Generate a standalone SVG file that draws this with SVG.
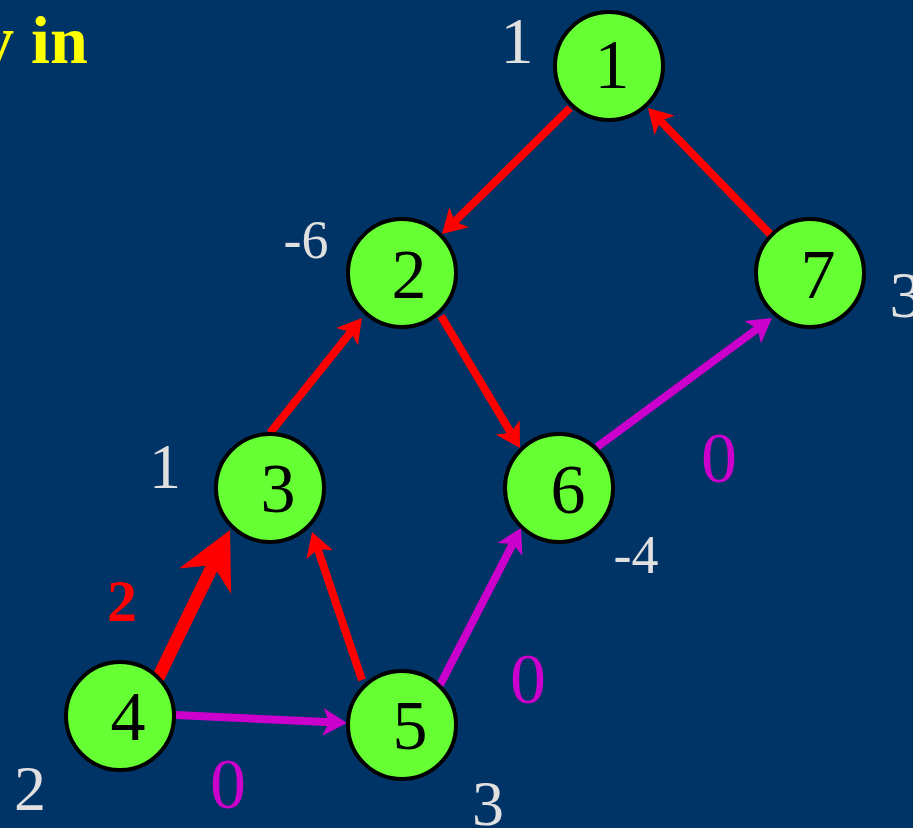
<svg xmlns="http://www.w3.org/2000/svg" width="913" height="828" viewBox="0 0 913 828">
<defs>
<style>
.node circle{fill:#66FF33;stroke:#000;stroke-width:4}
.node text{font-family:"Liberation Serif","Times New Roman",serif;font-size:70px;fill:#000;text-anchor:middle}
.lbl{font-family:"Liberation Serif","Times New Roman",serif;fill:#E0E0E0;text-anchor:middle}
.zero{font-family:"Liberation Serif","Times New Roman",serif;font-size:72px;fill:#CC00CC;text-anchor:middle}
.red{stroke:#FF0000;stroke-width:8;fill:none}
.mag{stroke:#CC00CC;stroke-width:8;fill:none}
</style>
<marker id="ahR" markerUnits="userSpaceOnUse" viewBox="-2 -16 30 32" refX="9" refY="0" markerWidth="30" markerHeight="32" orient="auto" overflow="visible">
<path d="M24,0 L0,-14 L6,0 L0,14 z" fill="#FF0000"/>
</marker>
<marker id="ahM" markerUnits="userSpaceOnUse" viewBox="-2 -16 30 32" refX="9" refY="0" markerWidth="30" markerHeight="32" orient="auto" overflow="visible">
<path d="M24,0 L0,-14 L6,0 L0,14 z" fill="#CC00CC"/>
</marker>
<marker id="ahBig" markerUnits="userSpaceOnUse" viewBox="-2 -31 62 62" refX="27" refY="0" markerWidth="62" markerHeight="62" orient="auto" overflow="visible">
<path d="M57,0 L0,-29 L18,0 L0,29 z" fill="#FF0000"/>
</marker>
</defs>
<rect width="913" height="828" fill="#003366"/>
<text x="-20" y="63" font-family="'Liberation Serif','Times New Roman',serif" font-size="68" font-weight="bold" fill="#FFFF00">y in</text>
<g id="connectors">
<line class="red" x1="570" y1="108" x2="452.7" y2="223.5" marker-end="url(#ahR)"/>
<line class="red" x1="772" y1="236" x2="658.4" y2="118.8" marker-end="url(#ahR)"/>
<line class="red" x1="270" y1="433" x2="352.6" y2="329.7" marker-end="url(#ahR)"/>
<line class="red" x1="441" y1="316" x2="512.3" y2="435.1" marker-end="url(#ahR)"/>
<line class="mag" x1="597" y1="447" x2="759.9" y2="326.9" marker-end="url(#ahM)"/>
<line class="red" x1="362" y1="680" x2="316.8" y2="546.2" marker-end="url(#ahR)"/>
<line class="mag" x1="440" y1="685" x2="514.1" y2="541.3" marker-end="url(#ahM)"/>
<line class="mag" x1="176" y1="715" x2="332" y2="722.3" marker-end="url(#ahM)"/>
<line stroke="#FF0000" stroke-width="13" x1="158" y1="678" x2="216.9" y2="557" marker-end="url(#ahBig)"/>
</g>
<g id="node1" class="node"><circle cx="609" cy="66" r="54"/><text x="612" y="88">1</text></g>
<g id="node2" class="node"><circle cx="402" cy="273" r="54"/><text x="409" y="298">2</text></g>
<g id="node7" class="node"><circle cx="810" cy="273" r="54"/><text x="818" y="298">7</text></g>
<g id="node3" class="node"><circle cx="270" cy="488" r="54"/><text x="278" y="512">3</text></g>
<g id="node6" class="node"><circle cx="559" cy="488" r="54"/><text x="568" y="513">6</text></g>
<g id="node4" class="node"><circle cx="120" cy="716" r="54"/><text x="128" y="740">4</text></g>
<g id="node5" class="node"><circle cx="402" cy="725" r="54"/><text x="410" y="749">5</text></g>
<g id="labels">
<text class="lbl" x="517" y="63" font-size="66">1</text>
<text class="lbl" x="306" y="258" font-size="54">-6</text>
<text class="lbl" x="906" y="317" font-size="66">3</text>
<text class="lbl" x="165" y="488" font-size="64">1</text>
<text class="lbl" x="636" y="573" font-size="54">-4</text>
<text class="lbl" x="30" y="810" font-size="64">2</text>
<text class="lbl" x="488" y="825" font-size="64">3</text>
<text class="zero" x="719" y="482">0</text>
<text class="zero" x="528" y="703">0</text>
<text class="zero" x="228" y="808">0</text>
<text x="122" y="621" font-family="'Liberation Serif','Times New Roman',serif" font-size="60" font-weight="bold" fill="#FF0000" text-anchor="middle">2</text>
</g>
</svg>
